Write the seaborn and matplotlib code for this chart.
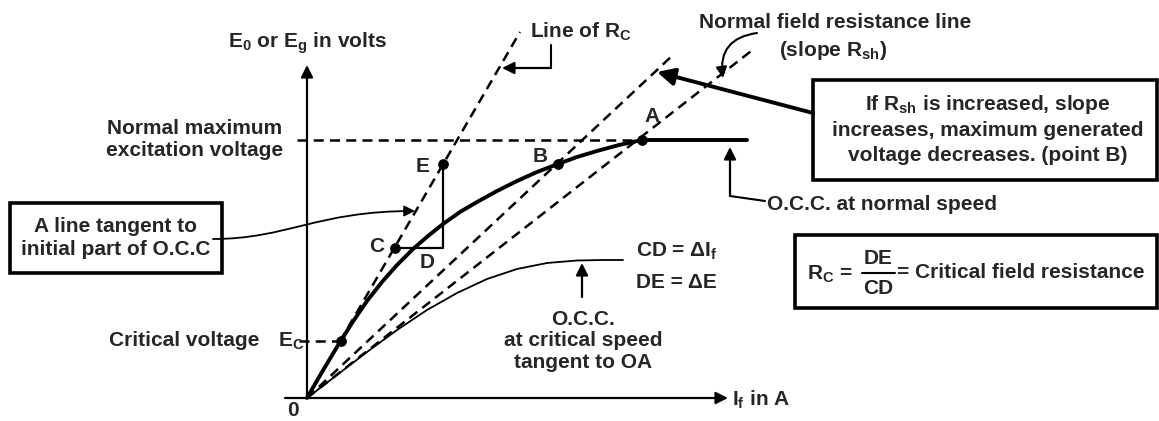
import matplotlib
matplotlib.use("Agg")
import matplotlib.pyplot as plt
import seaborn as sns
from matplotlib.patches import Rectangle, FancyArrowPatch
from matplotlib.path import Path

# O.C.C. values (origin at O, arbitrary units)
occ_normal_if = [0, 15, 30, 45, 60, 75, 90, 106, 121, 136, 153, 170, 190, 210, 230, 251, 270, 290, 312, 335, 440]
occ_normal_e = [0, 26, 51, 75, 97, 116, 133, 149, 162, 174, 186, 196, 207, 217, 226, 234, 241, 247, 253, 258, 258]

occ_crit_if = [0, 30, 60, 90, 120, 150, 180, 210, 240, 270, 295, 316]
occ_crit_e = [0, 23, 46, 68, 88, 105, 119, 129, 135, 137.5, 138, 138]

# straight lines from O, given by their far end (If, E)
rc_line = [213, 366]
ob_line = [366, 343]
oa_line = [448, 350]

# marked points on the curves
pt_names = ["Ec", "C", "E", "B", "A"]
pt_if = [34, 88, 136, 251, 335]
pt_e = [57, 150, 234, 234, 258]
d_point = [136, 150]

e_max = 258   # normal maximum excitation voltage
e_crit = 57   # critical voltage

sns.set_style("white")
plt.rcParams["font.family"] = ["Liberation Sans", "DejaVu Sans"]
plt.rcParams["font.weight"] = "bold"
plt.rcParams["font.size"] = 15
plt.rcParams["mathtext.fontset"] = "custom"
plt.rcParams["mathtext.rm"] = "Liberation Sans:bold"
plt.rcParams["mathtext.it"] = "Liberation Sans:bold"
plt.rcParams["mathtext.bf"] = "Liberation Sans:bold"
plt.rcParams["mathtext.default"] = "rm"

fig = plt.figure(figsize=(11.59, 4.21), dpi=100)
ax = fig.add_axes([0, 0, 1, 1])
ax.set_xlim(-307, 852)
ax.set_ylim(-23, 398)
ax.axis("off")

arrow = dict(arrowstyle="-|>", color="k", lw=1.6, mutation_scale=18, shrinkA=0, shrinkB=0)
dash = (0, (4, 2.5))

# axes with arrows
ax.annotate("", xy=(0, 333), xytext=(0, 0), arrowprops=arrow)
ax.annotate("", xy=(421, 0), xytext=(-22, 0), arrowprops=arrow)
ax.text(0, 355, "E$_0$ or E$_g$ in volts", ha="center", va="center")
ax.text(425, -2, "I$_f$ in A", ha="left", va="center")
ax.text(-14, -12, "0", ha="center", va="center")

# the two O.C.C. curves
sns.lineplot(x=occ_normal_if, y=occ_normal_e, color="k", lw=2.8, ax=ax, sort=False, estimator=None)
sns.lineplot(x=occ_crit_if, y=occ_crit_e, color="k", lw=1.3, ax=ax, sort=False, estimator=None)

# dashed resistance lines
for end in [rc_line, ob_line, oa_line]:
    ax.plot([0, end[0]], [0, end[1]], color="k", lw=1.8, linestyle=dash)
ax.plot([-10, pt_if[4]], [e_max, e_max], color="k", lw=1.8, linestyle=dash)
ax.plot([-8, pt_if[0]], [e_crit, e_crit], color="k", lw=1.8, linestyle=dash)

# triangle C-D-E
ax.plot([pt_if[1], d_point[0], pt_if[2]], [pt_e[1], d_point[1], pt_e[2]], color="k", lw=1.6)

sns.scatterplot(x=pt_if, y=pt_e, color="k", s=50, ax=ax, zorder=5, edgecolor="k")

# point labels
ax.text(116, 231, "E", ha="center", va="center")
ax.text(70, 151, "C", ha="center", va="center")
ax.text(120, 135, "D", ha="center", va="center")
ax.text(233, 241, "B", ha="center", va="center")
ax.text(345, 281, "A", ha="center", va="center")

# left side labels
ax.text(-112, 258, "Normal maximum\nexcitation voltage", ha="center", va="center", linespacing=1.2)
ax.text(-48, 57, "Critical voltage", ha="right", va="center")
ax.text(-29, 57, "E$_C$", ha="left", va="center")

# box: tangent line
ax.add_patch(Rectangle((-297, 125), 212, 70, fill=False, lw=2.6, ec="k"))
ax.text(-191, 160, "A line tangent to\ninitial part of O.C.C", ha="center", va="center", linespacing=1.25)
verts = [(-94, 159), (-20, 159), (10, 187), (108, 187)]
ax.add_patch(FancyArrowPatch(path=Path(verts, [Path.MOVETO, Path.CURVE4, Path.CURVE4, Path.CURVE4]),
                             arrowstyle="-|>", color="k", lw=1.3, mutation_scale=16))

# line of Rc label
ax.text(223, 366, "Line of R$_C$", ha="left", va="center")
ax.plot([244, 244], [353, 330], color="k", lw=1.5)
ax.annotate("", xy=(195, 330), xytext=(244, 330), arrowprops=arrow)

# normal field resistance line label
ax.text(528, 376, "Normal field resistance line", ha="center", va="center")
ax.text(526, 348, "(slope R$_{sh}$)", ha="center", va="center")
ax.annotate("", xy=(416, 320), xytext=(450, 365),
            arrowprops=dict(arrowstyle="-|>", color="k", lw=1.5, mutation_scale=16,
                            connectionstyle="arc3,rad=0.5", shrinkA=0, shrinkB=0))

# box: effect of Rsh
ax.add_patch(Rectangle((506, 218), 344, 100, fill=False, lw=2.6, ec="k"))
ax.text(681, 269, "If R$_{sh}$ is increased, slope\nincreases, maximum generated\nvoltage decreases. (point B)",
        ha="center", va="center", linespacing=1.35)
ax.annotate("", xy=(350, 326), xytext=(506, 285),
            arrowprops=dict(arrowstyle="-|>", color="k", lw=2.8, mutation_scale=26, shrinkA=0, shrinkB=0))

# O.C.C. at normal speed
ax.plot([458, 423], [197, 202], color="k", lw=1.5)
ax.annotate("", xy=(423, 251), xytext=(423, 202), arrowprops=arrow)
ax.text(460, 193, "O.C.C. at normal speed", ha="left", va="center")

# O.C.C. at critical speed
ax.annotate("", xy=(275, 135), xytext=(275, 101), arrowprops=arrow)
ax.text(276, 57, "O.C.C.\nat critical speed\ntangent to OA", ha="center", va="center", linespacing=1.15)
ax.text(329, 147, "CD = ΔI$_f$", ha="left", va="center")
ax.text(329, 115, "DE = ΔE", ha="left", va="center")

# box: critical field resistance
ax.add_patch(Rectangle((488, 90), 362, 73, fill=False, lw=2.6, ec="k"))
ax.text(500, 124, "R$_C$ =", ha="left", va="center")
ax.text(571, 139, "DE", ha="center", va="center")
ax.text(571, 110, "CD", ha="center", va="center")
ax.plot([555, 588], [125, 125], color="k", lw=1.5)
ax.text(590, 125, "= Critical field resistance", ha="left", va="center")

fig.savefig("out.png", dpi=100)
